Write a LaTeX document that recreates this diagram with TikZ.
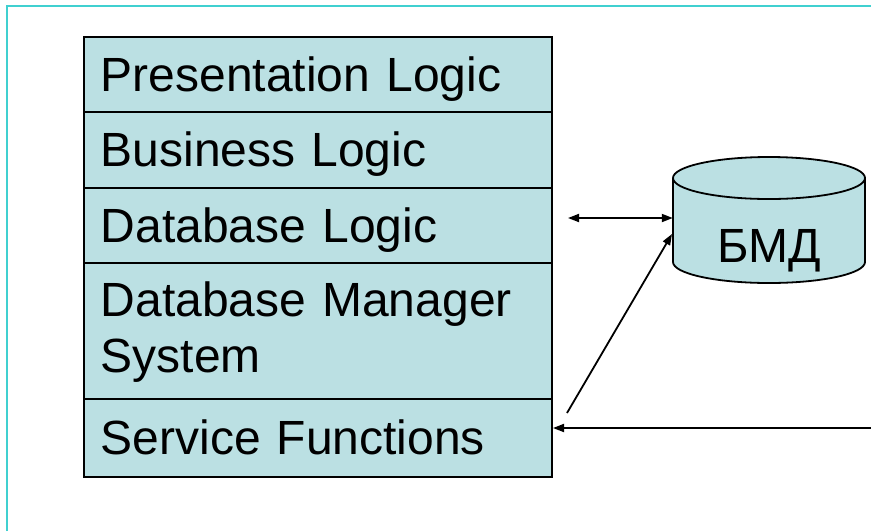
\documentclass[tikz,border=0pt]{standalone}
\usepackage{fontspec}
\setmainfont{Liberation Sans}
\usetikzlibrary{arrows.meta}
\definecolor{rowfill}{RGB}{187,224,227}
\definecolor{framecol}{RGB}{64,208,208}
\begin{document}
\begin{tikzpicture}[x=1pt,y=-1pt,
  rowbox/.style={draw=black, line width=1.8pt, fill=rowfill, anchor=north west,
    text width=434pt, inner xsep=17pt, inner ysep=0pt, align=left,
    font=\fontsize{48}{56}\selectfont, text height=34pt, text depth=0pt},
  conn/.style={line width=1.8pt, -{Triangle[length=11pt,width=8pt]}},
  dconn/.style={line width=1.8pt, {Triangle[length=11pt,width=8pt]}-{Triangle[length=11pt,width=8pt]}}]
\useasboundingbox (0,0) rectangle (871,531);
\draw[framecol, line width=2.2pt] (7,531) -- (7,6) -- (871,6);
% stack of layers
\node[rowbox, minimum height=75pt] (r1) at (83,36) {Presentation Logic};
\node[rowbox, minimum height=76pt] (r2) at (83,111) {Business Logic};
\node[rowbox, minimum height=75pt] (r3) at (83,187) {Database Logic};
\node[rowbox, minimum height=136pt, text height=37pt, text depth=66pt] (r4) at (83,262) {Database Manager\\System};
\node[rowbox, minimum height=78pt] (r5) at (83,398) {Service Functions};
% cylinder
\draw[line width=1.8pt, fill=rowfill]
  (673,178) -- (673,262) arc[start angle=180, end angle=360, x radius=96, y radius=-21]
  -- (865,178) arc[start angle=0, end angle=180, x radius=96, y radius=-21] -- cycle;
\draw[line width=1.8pt] (673,178) arc[start angle=180, end angle=360, x radius=96, y radius=-21];
\node[inner sep=0pt, minimum width=192pt, minimum height=84pt] (db) at (769,220) {};
\node[inner sep=0pt, font=\fontsize{48}{56}\selectfont, text height=34pt, text depth=0pt] (dbtext) at (769,245) {БМД};
% connectors
\coordinate (a1) at (568,218);
\coordinate (b1) at (567,413);
\coordinate (b2) at (672,234);
\coordinate (c1) at (871,428);
\coordinate (c2) at (553,428);
\draw[dconn] (a1) -- (db.west |- a1);
\draw[conn] (b1) -- (b2);
\draw[conn] (c1) -- (c2);
\end{tikzpicture}
\end{document}
